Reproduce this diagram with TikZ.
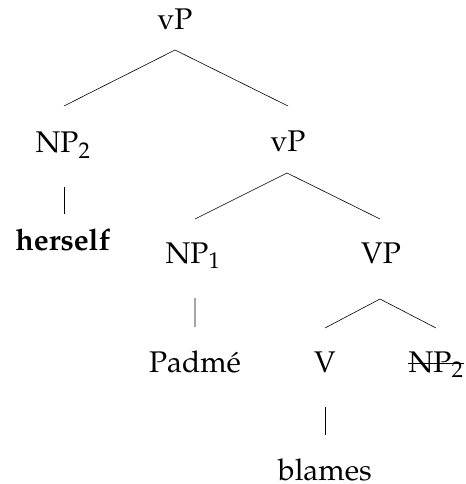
\documentclass[tikz,border=0pt]{standalone}
\usepackage[T1]{fontenc}
\usepackage{mathpazo}
\begin{document}
\begin{tikzpicture}[x=1bp,y=-1bp,
  lbl/.style={anchor=base,inner sep=0pt,font=\fontsize{30}{36}\selectfont},
  branch/.style={line width=0.6bp}]
\useasboundingbox (0,0) rectangle (466,484);
% labels, placed on their baselines
\node[lbl] (root)    at (175,30)  {vP};
\node[lbl] (np2)     at (63,153)  {NP$_2$};
\node[lbl] (vp2)     at (288,152) {vP};
\node[lbl] (herself) at (63,250)  {\textbf{herself}};
\node[lbl] (np1)     at (193,263) {NP$_1$};
\node[lbl] (vpbar)   at (381,263) {VP};
\node[lbl] (padme)   at (195,372) {Padmé};
\node[lbl] (verb)    at (325,372) {V};
\node[lbl] (np2low)  at (436,372) {NP$_2$};
\node[lbl] (blames)  at (325,480) {blames};
% deleted copy of the moved object
\draw[branch] ([yshift=9bp]np2low.base west) -- ([yshift=9bp]np2low.base east);
% branches
\draw[branch] ([yshift=-20bp]root.base) -- ([xshift=1bp,yshift=47bp]np2.base);
\draw[branch] ([yshift=-20bp]root.base) -- ([yshift=46bp]vp2.base);
\draw[branch] ([xshift=-1bp,yshift=-21bp]vp2.base) -- ([xshift=2bp,yshift=44bp]np1.base);
\draw[branch] ([xshift=-1bp,yshift=-21bp]vp2.base) -- ([xshift=-1bp,yshift=44bp]vpbar.base);
\draw[branch] ([xshift=-1bp,yshift=-36bp]vpbar.base) -- ([yshift=44bp]verb.base);
\draw[branch] ([xshift=-1bp,yshift=-36bp]vpbar.base) -- ([yshift=44bp]np2low.base);
\draw[branch] ([xshift=1bp,yshift=-34bp]np2.base) -- ([xshift=1bp,yshift=36bp]herself.base);
\draw[branch] ([xshift=2bp,yshift=-35bp]np1.base) -- ([yshift=45bp]padme.base);
\draw[branch] ([yshift=-35bp]verb.base) -- ([yshift=45bp]blames.base);
\end{tikzpicture}
\end{document}
